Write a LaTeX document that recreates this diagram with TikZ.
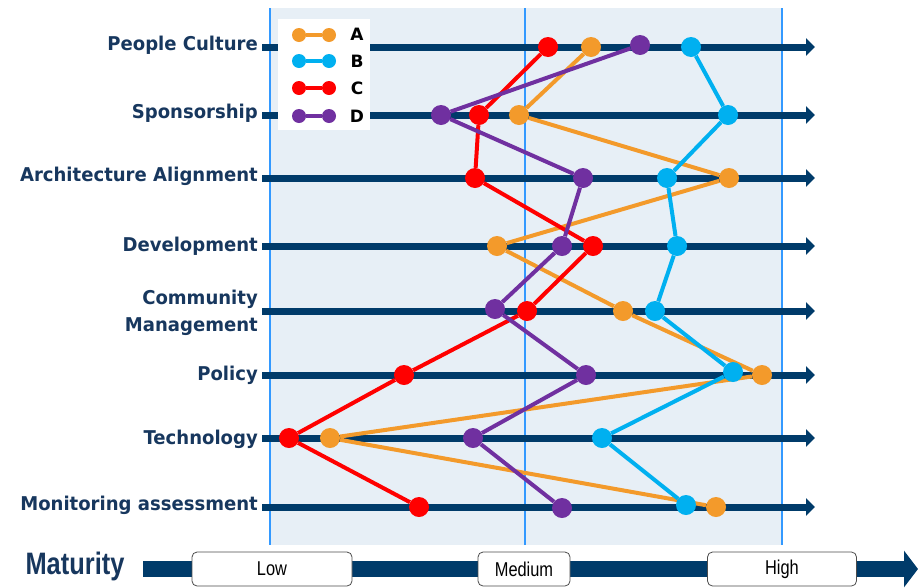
\documentclass[tikz,border=0pt]{standalone}
\usepackage{fontspec}
\setmainfont{DejaVu Sans}
\newfontfamily\labelfont[FakeStretch=0.95]{DejaVu Sans}
\newfontfamily\narrowfont[FakeStretch=0.82]{Liberation Sans}
\usetikzlibrary{arrows.meta}
\pgfdeclarelayer{back}
\pgfdeclarelayer{lines}
\pgfsetlayers{back,lines,main}
\definecolor{navy}{HTML}{003B6A}
\definecolor{labelblue}{HTML}{17375E}
\definecolor{bgblue}{HTML}{E7EFF6}
\definecolor{gridblue}{HTML}{3399FF}
\definecolor{serA}{HTML}{F39A2B}
\definecolor{serB}{HTML}{00B0F0}
\definecolor{serC}{HTML}{FF0000}
\definecolor{serD}{HTML}{7030A0}
\begin{document}
\begin{tikzpicture}[x=1pt,y=-1pt]
\tikzset{dot/.style={circle, inner sep=0pt, minimum size=20pt},
  serline/.style={line width=4pt},
  rowarrow/.style={navy, line width=7pt, -{Triangle[length=9pt,width=17pt]}},
  rowlabel/.style={anchor=east, align=right, text=labelblue, inner sep=0pt, font=\labelfont\bfseries\fontsize{19}{27}\selectfont},
  scalebox/.style={draw=black!70, fill=white, rounded corners=5pt, line width=0.8pt, minimum height=34pt, font=\narrowfont\fontsize{20}{22}\selectfont},
  legtext/.style={font=\bfseries\fontsize{17}{18}\selectfont}};
\useasboundingbox (0,0) rectangle (918,587);

% background and level lines
\begin{pgfonlayer}{back}
\fill[bgblue] (270,8) rectangle (782,545);
\draw[gridblue, line width=2pt] (270,8) -- (270,545);
\draw[gridblue, line width=2pt] (525,8) -- (525,545);
\draw[gridblue, line width=2pt] (782,8) -- (782,545);
\end{pgfonlayer}

% rows
\node[rowlabel] (l1) at (258,45) {People Culture};
\node[rowlabel] (l2) at (258,113) {Sponsorship};
\node[rowlabel] (l3) at (258,176) {Architecture Alignment};
\node[rowlabel] (l4) at (258,246) {Development};
\node[rowlabel] (l5) at (258,313) {Community\\Management};
\node[rowlabel] (l6) at (258,375) {Policy};
\node[rowlabel] (l7) at (258,439) {Technology};
\node[rowlabel] (l8) at (258,505) {Monitoring assessment};

\coordinate (s1) at (262,47);  \coordinate (e1) at (815,47);
\coordinate (s2) at (262,115); \coordinate (e2) at (815,115);
\coordinate (s3) at (262,178); \coordinate (e3) at (815,178);
\coordinate (s4) at (262,246); \coordinate (e4) at (815,246);
\coordinate (s5) at (262,311); \coordinate (e5) at (815,311);
\coordinate (s6) at (262,375); \coordinate (e6) at (815,375);
\coordinate (s7) at (262,438); \coordinate (e7) at (815,438);
\coordinate (s8) at (262,507); \coordinate (e8) at (815,507);
\begin{pgfonlayer}{back}
\foreach \i in {1,...,8}
  \draw[rowarrow] (s\i) -- (e\i);
\end{pgfonlayer}

% A
\node[dot,fill=serA] (a1) at (591,47) {};
\node[dot,fill=serA] (a2) at (519,115) {};
\node[dot,fill=serA] (a3) at (729,178) {};
\node[dot,fill=serA] (a4) at (497,246) {};
\node[dot,fill=serA] (a5) at (623,311) {};
\node[dot,fill=serA] (a6) at (762,375) {};
\node[dot,fill=serA] (a7) at (330,438) {};
\node[dot,fill=serA] (a8) at (716,507) {};
% B
\node[dot,fill=serB] (b1) at (691,47) {};
\node[dot,fill=serB] (b2) at (728,115) {};
\node[dot,fill=serB] (b3) at (667,178) {};
\node[dot,fill=serB] (b4) at (677,246) {};
\node[dot,fill=serB] (b5) at (655,311) {};
\node[dot,fill=serB] (b6) at (733,372) {};
\node[dot,fill=serB] (b7) at (602,438) {};
\node[dot,fill=serB] (b8) at (686,505) {};
% C
\node[dot,fill=serC] (c1) at (548,47) {};
\node[dot,fill=serC] (c2) at (479,115) {};
\node[dot,fill=serC] (c3) at (475,178) {};
\node[dot,fill=serC] (c4) at (593,246) {};
\node[dot,fill=serC] (c5) at (527,311) {};
\node[dot,fill=serC] (c6) at (404,375) {};
\node[dot,fill=serC] (c7) at (289,438) {};
\node[dot,fill=serC] (c8) at (419,507) {};
% D
\node[dot,fill=serD] (d1) at (640,45) {};
\node[dot,fill=serD] (d2) at (441,115) {};
\node[dot,fill=serD] (d3) at (583,178) {};
\node[dot,fill=serD] (d4) at (562,246) {};
\node[dot,fill=serD] (d5) at (495,309) {};
\node[dot,fill=serD] (d6) at (586,375) {};
\node[dot,fill=serD] (d7) at (473,438) {};
\node[dot,fill=serD] (d8) at (562,508) {};

\begin{pgfonlayer}{lines}
\draw[serline,serA] (a1) -- (a2) -- (a3) -- (a4) -- (a5) -- (a6) -- (a7) -- (a8);
\draw[serline,serB] (b1) -- (b2) -- (b3) -- (b4) -- (b5) -- (b6) -- (b7) -- (b8);
\draw[serline,serC] (c1) -- (c2) -- (c3) -- (c4) -- (c5) -- (c6) -- (c7) -- (c8);
\draw[serline,serD] (d1) -- (d2) -- (d3) -- (d4) -- (d5) -- (d6) -- (d7) -- (d8);
\end{pgfonlayer}

% legend
\fill[white] (278,19) rectangle (370,130);
\node[dot,fill=serA,minimum size=14pt] (la1) at (299,35) {};
\node[dot,fill=serA,minimum size=14pt] (la2) at (329,35) {};
\node[dot,fill=serB,minimum size=14pt] (lb1) at (299,61) {};
\node[dot,fill=serB,minimum size=14pt] (lb2) at (329,61) {};
\node[dot,fill=serC,minimum size=14pt] (lc1) at (299,88) {};
\node[dot,fill=serC,minimum size=14pt] (lc2) at (329,88) {};
\node[dot,fill=serD,minimum size=14pt] (ld1) at (299,116) {};
\node[dot,fill=serD,minimum size=14pt] (ld2) at (329,116) {};
\draw[serA,line width=3.5pt] (la1) -- (la2);
\draw[serB,line width=3.5pt] (lb1) -- (lb2);
\draw[serC,line width=3.5pt] (lc1) -- (lc2);
\draw[serD,line width=3.5pt] (ld1) -- (ld2);
\node[legtext] (ta) at (357,34) {A};
\node[legtext] (tb) at (357,61) {B};
\node[legtext] (tc) at (357,88) {C};
\node[legtext] (td) at (357,116) {D};

% maturity scale
\node[text=labelblue, font=\narrowfont\bfseries\fontsize{31}{32}\selectfont] (mat) at (75,566) {Maturity};
\coordinate (ms) at (143,569);
\coordinate (me) at (918,569);
\draw[navy, line width=16pt, -{Triangle[length=14pt,width=36pt]}] (ms) -- (me);
\node[scalebox, minimum width=160pt] (low) at (272,569) {Low};
\node[scalebox, minimum width=92pt] (med) at (524,569) {Medium};
\node[scalebox, minimum width=149pt] (high) at (782,569) {High};
\end{tikzpicture}
\end{document}
